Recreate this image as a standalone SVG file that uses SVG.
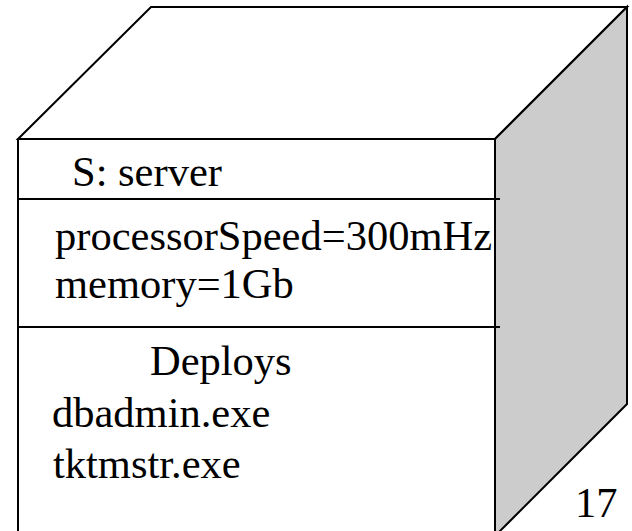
<svg xmlns="http://www.w3.org/2000/svg" width="632" height="531" viewBox="0 0 632 531">
<style>
.e{stroke:#000;stroke-width:2;stroke-linejoin:miter}
.t{font-family:"Liberation Serif","Times New Roman",serif;font-size:42.5px;fill:#000}
</style>
<rect width="632" height="531" fill="#fff"/>
<g id="node-server">
<polygon class="e" points="18,139 151,7 627,7 495,139" fill="#fff"/>
<polygon class="e" points="495,139 627,7 627,404 495,536" fill="#cccccc"/>
<rect class="e" x="18" y="139" width="477" height="400" fill="#fff"/>
<line class="e" x1="18" y1="199" x2="500" y2="199"/>
<line class="e" x1="18" y1="327" x2="500" y2="327"/>
<text class="t" x="72" y="186">S: server</text>
<text class="t" x="55" y="250">processorSpeed=300mHz</text>
<text class="t" x="55" y="298">memory=1Gb</text>
<text class="t" x="150" y="375">Deploys</text>
<text class="t" x="52" y="427">dbadmin.exe</text>
<text class="t" x="53" y="478">tktmstr.exe</text>
<text class="t" x="575" y="517">17</text>
</g>
<g id="connectors"/>
</svg>
